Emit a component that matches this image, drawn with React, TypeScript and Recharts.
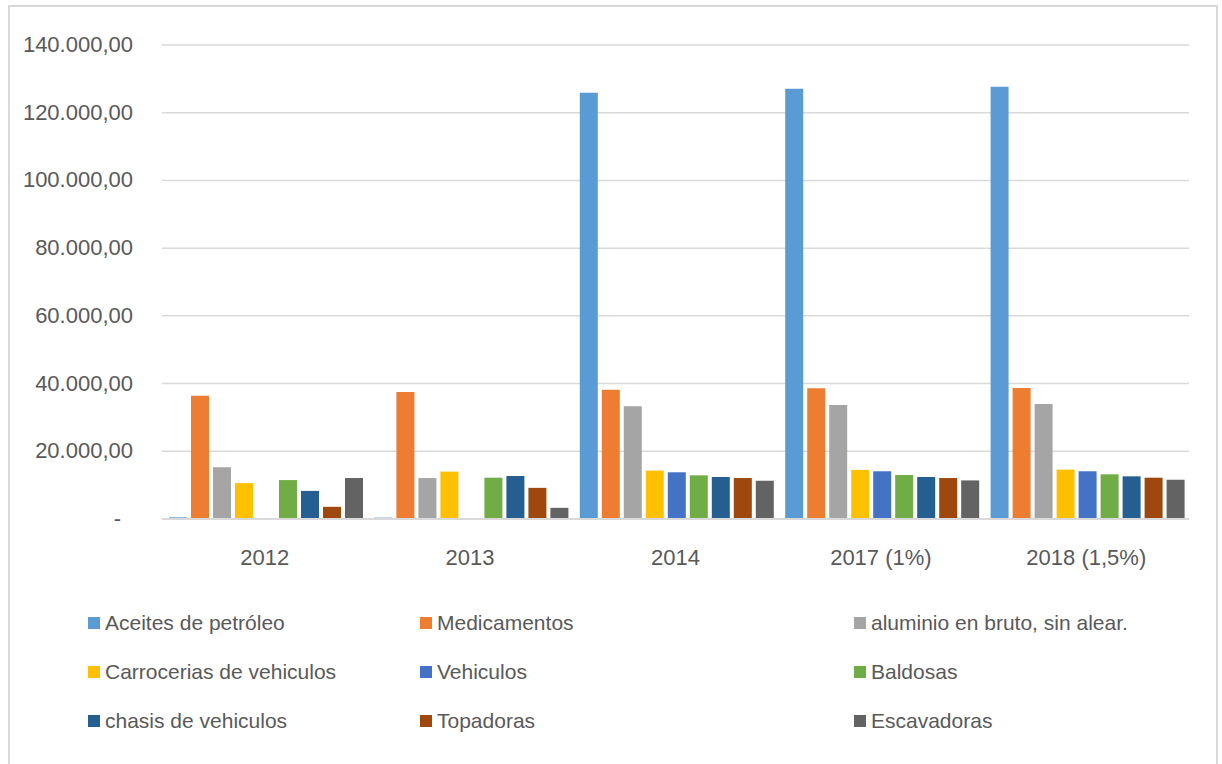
import React from 'react';
import { BarChart, Bar, XAxis, YAxis, CartesianGrid, Legend } from 'recharts';

const categories = ['2012', '2013', '2014', '2017 (1%)', '2018 (1,5%)'];
const aceites = [500, 400, 125900, 127100, 127700];
const medicamentos = [36400, 37500, 38200, 38600, 38700];
const aluminio = [15300, 12100, 33300, 33700, 34000];
const carrocerias = [10600, 14000, 14300, 14500, 14600];
const vehiculos = [300, 0, 13800, 14100, 14100];
const baldosas = [11500, 12200, 12900, 13000, 13200];
const chasis = [8300, 12700, 12400, 12400, 12600];
const topadoras = [3600, 9200, 12100, 12100, 12200];
const escavadoras = [12100, 3300, 11300, 11400, 11600];
const yTicks = [0, 20000, 40000, 60000, 80000, 100000, 120000, 140000];

const SERIES = [
  { key: 'aceites', name: 'Aceites de petróleo', color: '#5B9BD5', values: aceites },
  { key: 'medicamentos', name: 'Medicamentos', color: '#ED7D31', values: medicamentos },
  { key: 'aluminio', name: 'aluminio en bruto, sin alear.', color: '#A5A5A5', values: aluminio },
  { key: 'carrocerias', name: 'Carrocerias de vehiculos', color: '#FFC000', values: carrocerias },
  { key: 'vehiculos', name: 'Vehiculos', color: '#4472C4', values: vehiculos },
  { key: 'baldosas', name: 'Baldosas', color: '#70AD47', values: baldosas },
  { key: 'chasis', name: 'chasis de vehiculos', color: '#255E91', values: chasis },
  { key: 'topadoras', name: 'Topadoras', color: '#9E480E', values: topadoras },
  { key: 'escavadoras', name: 'Escavadoras', color: '#636363', values: escavadoras },
];

const data = categories.map((cat, i) => {
  const row: Record<string, string | number> = { cat };
  SERIES.forEach(s => { row[s.key] = s.values[i]; });
  return row;
});

const FONT = '"Liberation Sans", Arial, sans-serif';
const TEXT = '#595959';
const GRID = '#d9d9d9';

// 140000 -> "140.000,00"
const fmt = (v: number) => {
  const int = Math.round(v).toString().replace(/\B(?=(\d{3})+(?!\d))/g, '.');
  return `${int},00`;
};

const YTick = ({ x, y, payload }: any) => (
  <text
    x={payload.value === 0 ? x - 33 : x - 21}
    y={y}
    dy={7}
    textAnchor="end"
    fill={TEXT}
    fontSize={22}
    fontFamily={FONT}
  >
    {payload.value === 0 ? '-' : fmt(payload.value)}
  </text>
);

const LegendBox = () => (
  <div
    style={{
      display: 'grid',
      gridTemplateColumns: '332px 434px 300px',
      fontFamily: FONT,
      fontSize: 21,
      color: TEXT,
    }}
  >
    {SERIES.map(s => (
      <div key={s.key} style={{ display: 'flex', alignItems: 'center', height: 49 }}>
        <span style={{ width: 12, height: 12, background: s.color, marginRight: 5, flexShrink: 0 }} />
        <span>{s.name}</span>
      </div>
    ))}
  </div>
);

export default function App() {
  return (
    <div style={{ position: 'absolute', left: 0, top: 0, width: 1222, height: 764, overflow: 'hidden', background: '#fff' }}>
      <div
        style={{
          position: 'absolute',
          left: 8,
          top: 5,
          width: 1206,
          height: 800,
          border: `2px solid ${GRID}`,
        }}
      />
      <div style={{ position: 'absolute', left: 0, top: 0 }}>
        <BarChart
          width={1222}
          height={764}
          data={data}
          margin={{ top: 45, right: 33, bottom: 58, left: 0 }}
          barCategoryGap={7}
          barGap={4}
        >
          <CartesianGrid vertical={false} stroke={GRID} strokeWidth={1.5} />
          <XAxis
            dataKey="cat"
            axisLine={{ stroke: GRID, strokeWidth: 2 }}
            tickLine={false}
            tickMargin={24}
            height={40}
            tick={{ fill: TEXT, fontSize: 22, fontFamily: FONT }}
          />
          <YAxis
            width={162}
            domain={[0, 140000]}
            ticks={yTicks}
            axisLine={false}
            tickLine={false}
            tick={<YTick />}
          />
          <Legend
            verticalAlign="bottom"
            content={<LegendBox />}
            wrapperStyle={{ position: 'absolute', left: 88, top: 598, width: 1100 }}
          />
          {SERIES.map(s => (
            <Bar key={s.key} dataKey={s.key} name={s.name} fill={s.color} isAnimationActive={false} />
          ))}
        </BarChart>
      </div>
    </div>
  );
}
